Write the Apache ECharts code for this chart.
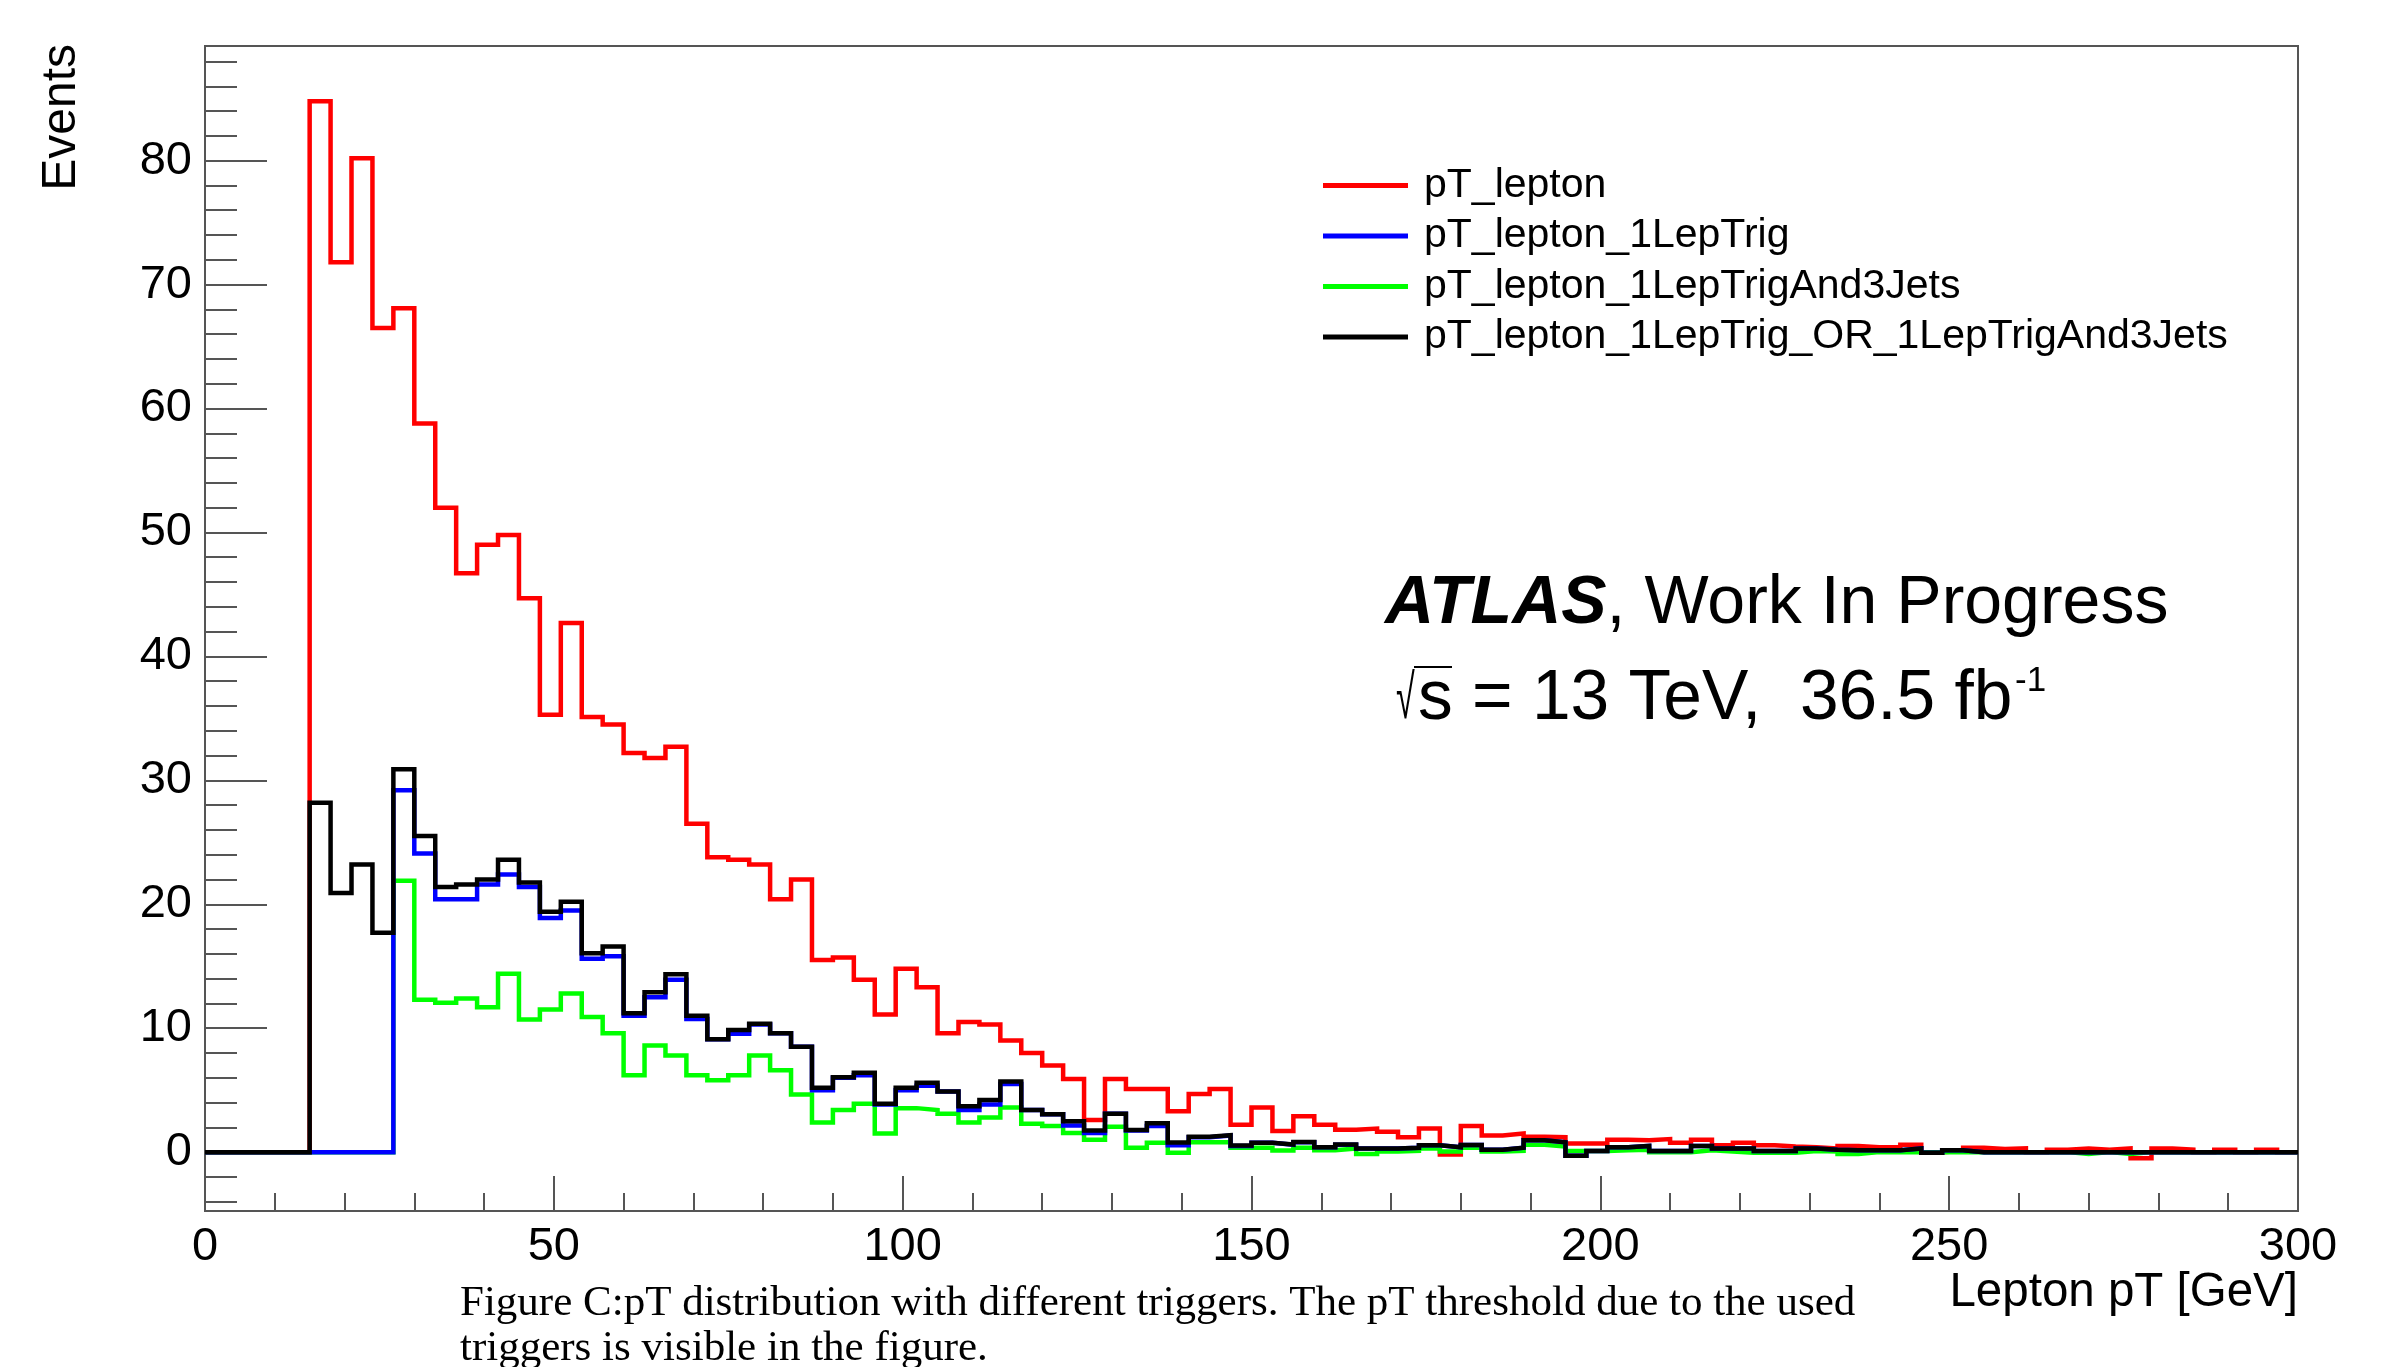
<!DOCTYPE html>
<html>
<head>
<meta charset="utf-8">
<script src="https://cdn.jsdelivr.net/npm/echarts@6/dist/echarts.min.js"></script>
<style>
html,body{margin:0;padding:0;background:#fff;}
#chart{width:2393px;height:1367px;}
</style>
</head>
<body>
<div id="chart"></div>
<script>
// ---- data: 100 bins of 3 GeV from 0 to 300 GeV ----
const BIN_WIDTH = 3;
const pT_lepton = [
  0, 0, 0, 0, 0,
  84.8, 71.8, 80.2, 66.5, 68.1,
  58.8, 52.0, 46.7, 49.0, 49.8,
  44.7, 35.3, 42.7, 35.1, 34.5,
  32.2, 31.8, 32.7, 26.5, 23.8,
  23.6, 23.2, 20.4, 22.0, 15.5,
  15.7, 13.9, 11.1, 14.8, 13.3,
  9.6, 10.5, 10.3, 9.0, 8.0,
  7.0, 5.9, 2.6, 5.9, 5.1,
  5.1, 3.3, 4.7, 5.1, 2.2,
  3.6, 1.7, 2.9, 2.2, 1.8,
  1.9, 1.65, 1.2, 1.9, -0.2,
  2.1, 1.35, 1.5, 1.25, 1.2,
  0.7, 0.7, 1.0, 0.95, 1.05,
  0.75, 1.0, 0.55, 0.75, 0.55,
  0.45, 0.4, 0.3, 0.5, 0.4,
  0.4, 0.6, 0, 0.1, 0.35,
  0.25, 0.3, 0, 0.2, 0.3,
  0.2, 0.3, -0.5, 0.3, 0.2,
  0, 0.2, 0, 0.2, 0
];
const pT_lepton_1LepTrig = [
  0, 0, 0, 0, 0,
  0, 0, 0, 0, 29.2,
  24.1, 20.4, 20.4, 21.6, 22.4,
  21.4, 18.9, 19.5, 15.6, 15.8,
  11.0, 12.5, 13.9, 10.75, 9.1,
  9.55, 10.3, 9.6, 8.5, 5.0,
  6.0, 6.2, 3.85, 5.0, 5.35,
  4.9, 3.4, 3.85, 5.5, 3.4,
  3.05, 2.15, 1.55, 3.1, 1.75,
  2.1, 0.55, 1.2, 1.35, 0.5,
  0.75, 0.6, 0.8, 0.4, 0.6,
  0.3, 0.3, 0.35, 0.55, 0.4,
  0.57, 0.2, 0.35, 0.95, 0.8,
  -0.3, 0.1, 0.4, 0.5, 0.1,
  0.1, 0.5, 0.3, 0.3, 0.1,
  0.1, 0.3, 0.2, 0.15, 0.15,
  0.15, 0.3, -0.05, 0.15, 0,
  0, 0, 0, 0, 0,
  0, 0, 0, 0, 0,
  0, 0, 0, 0, 0
];
const pT_lepton_1LepTrigAnd3Jets = [
  0, 0, 0, 0, 0,
  0, 0, 0, 0, 21.9,
  12.3, 12.05, 12.4, 11.7, 14.4,
  10.7, 11.5, 12.8, 10.9, 9.6,
  6.2, 8.6, 7.8, 6.2, 5.8,
  6.2, 7.8, 6.6, 4.65, 2.4,
  3.4, 3.9, 1.5, 3.55, 3.4,
  3.1, 2.4, 2.8, 3.6, 2.3,
  2.1, 1.55, 1.0, 2.05, 0.35,
  0.75, -0.05, 0.8, 0.8, 0.35,
  0.35, 0.13, 0.35, 0.15, 0.3,
  -0.15, 0.05, 0.1, 0.3, 0.05,
  0.35, 0.05, 0.1, 0.6, 0.45,
  0.1, 0.1, 0.15, 0.2, 0,
  0, 0.15, 0.05, -0.05, -0.05,
  -0.05, 0.1, 0.05, -0.15, 0,
  0, 0, 0, 0, 0,
  0, 0, 0, 0, -0.15,
  0, -0.15, 0, 0, 0,
  0, 0, 0, 0, 0
];
const pT_lepton_1LepTrig_OR_1LepTrigAnd3Jets = [
  0, 0, 0, 0, 0,
  28.2, 20.9, 23.2, 17.7, 30.9,
  25.5, 21.4, 21.6, 22.0, 23.6,
  21.75, 19.4, 20.2, 16.05, 16.6,
  11.2, 12.9, 14.35, 11.0, 9.1,
  9.85, 10.35, 9.6, 8.5, 5.2,
  6.05, 6.4, 3.9, 5.2, 5.6,
  4.9, 3.7, 4.2, 5.7, 3.4,
  3.05, 2.5, 1.75, 3.1, 1.78,
  2.34, 0.78, 1.24, 1.37, 0.54,
  0.75, 0.62, 0.81, 0.4, 0.62,
  0.3, 0.3, 0.35, 0.55, 0.4,
  0.57, 0.2, 0.35, 0.95, 0.8,
  -0.3, 0.1, 0.4, 0.5, 0.1,
  0.1, 0.5, 0.3, 0.3, 0.1,
  0.1, 0.3, 0.2, 0.15, 0.15,
  0.15, 0.3, -0.05, 0.15, 0,
  0, 0, 0, 0, 0,
  0, 0, 0, 0, 0,
  0, 0, 0, 0, 0
];
const seriesNames = ['pT_lepton', 'pT_lepton_1LepTrig', 'pT_lepton_1LepTrigAnd3Jets', 'pT_lepton_1LepTrig_OR_1LepTrigAnd3Jets'];
const yMajorTicks = [0, 10, 20, 30, 40, 50, 60, 70, 80];
const yMinorStep = 2;
const xTickLabels = [0, 50, 100, 150, 200, 250, 300];

// ---- helpers ----
function histPoints(vals) {
  const pts = vals.map((v, i) => [i * BIN_WIDTH, v]);
  pts.push([vals.length * BIN_WIDTH, vals[vals.length - 1]]);
  return pts;
}
const yMinorTicks = [];
for (let v = -4; v <= 88; v += yMinorStep) { if (v % 10 !== 0) yMinorTicks.push(v); }

const FONT = '"Liberation Sans", Arial, Helvetica, sans-serif';
const SERIF = '"Liberation Serif", "DejaVu Serif", serif';
const AX = '#555';
const YMIN = -4.75, YMAX = 89.25;

const chart = echarts.init(document.getElementById('chart'), null, {renderer: 'canvas'});

function mkSeries(name, data, color, z) {
  return {
    name: name, type: 'line', step: 'end', symbol: 'none', showSymbol: false,
    data: histPoints(data), z: z, clip: true,
    color: color,
    itemStyle: {color: color},
    lineStyle: {color: color, width: 4.5, join: 'miter', cap: 'butt'},
    emphasis: {disabled: true}
  };
}

const option = {
  animation: false,
  backgroundColor: '#ffffff',
  grid: {left: 205, right: 95, top: 46, bottom: 156, show: true, borderColor: AX, borderWidth: 2, backgroundColor: 'transparent'},
  xAxis: {
    type: 'value', min: 0, max: 300, interval: 50,
    axisLine: {show: true, onZero: false, lineStyle: {color: AX, width: 2}},
    axisTick: {show: true, inside: true, length: 35, lineStyle: {color: AX, width: 2}},
    minorTick: {show: true, splitNumber: 5, length: 18, lineStyle: {color: AX, width: 2}},
    splitLine: {show: false},
    axisLabel: {fontSize: 47, color: '#000', fontFamily: FONT, margin: 13,
      formatter: function (v) { return xTickLabels.indexOf(v) >= 0 ? String(v) : ''; }}
  },
  yAxis: [
    {
      type: 'value', min: YMIN, max: YMAX, position: 'left',
      axisLine: {show: true, onZero: false, lineStyle: {color: AX, width: 2}},
      axisTick: {show: true, inside: true, length: 62, customValues: yMajorTicks, lineStyle: {color: AX, width: 2}},
      axisLabel: {show: true, customValues: yMajorTicks, fontSize: 47, color: '#000', fontFamily: FONT, margin: 13,
        padding: [9, 0, 0, 0]},
      splitLine: {show: false}
    },
    {
      type: 'value', min: YMIN, max: YMAX, position: 'left', offset: 0,
      axisLine: {show: false},
      axisTick: {show: true, inside: true, length: 32, customValues: yMinorTicks, lineStyle: {color: AX, width: 2}},
      axisLabel: {show: false},
      splitLine: {show: false}
    }
  ],
  legend: {
    data: seriesNames,
    orient: 'vertical', left: 1318, top: 160, itemGap: 9.5,
    icon: 'rect', itemWidth: 85, itemHeight: 5,
    itemStyle: {borderWidth: 0},
    textStyle: {fontSize: 41, lineHeight: 41, fontFamily: FONT, color: '#000', padding: [0, 0, 0, 11]},
    selectedMode: false
  },
  series: [
    mkSeries(seriesNames[0], pT_lepton, '#ff0000', 2),
    mkSeries(seriesNames[2], pT_lepton_1LepTrigAnd3Jets, '#00ff00', 3),
    mkSeries(seriesNames[1], pT_lepton_1LepTrig, '#0000ff', 4),
    mkSeries(seriesNames[3], pT_lepton_1LepTrig_OR_1LepTrigAnd3Jets, '#000000', 5)
  ],
  graphic: [
    {type: 'text', x: 62, y: 44, rotation: Math.PI / 2, z: 100,
      style: {text: 'Events', fontSize: 48, fontFamily: FONT, fill: '#000', align: 'right', verticalAlign: 'middle'}},
    {type: 'text', x: 2298, y: 1293, z: 100,
      style: {text: 'Lepton pT [GeV]', fontSize: 47.5, fontFamily: FONT, fill: '#000', align: 'right', verticalAlign: 'middle'}},
    {type: 'text', x: 1385, y: 604, z: 100,
      style: {text: '{a|ATLAS}{b|, Work In Progress}', align: 'left', verticalAlign: 'middle', fill: '#000',
        rich: {
          a: {fontSize: 68, fontFamily: FONT, fontWeight: 'bold', fontStyle: 'italic', fill: '#000'},
          b: {fontSize: 68, fontFamily: FONT, fill: '#000'}
        }}},
    {type: 'text', x: 1396, y: 701, scaleX: 0.55, z: 100,
      style: {text: '\u221A', fontSize: 62, fontFamily: FONT, fill: '#000', align: 'left', verticalAlign: 'middle'}},
    {type: 'line', z: 100, shape: {x1: 1414, y1: 667, x2: 1452, y2: 667}, style: {stroke: '#000', lineWidth: 2}},
    {type: 'text', x: 1418, y: 700, z: 100,
      style: {text: 's = 13 TeV,  36.5 fb', fontSize: 69.5, fontFamily: FONT, fill: '#000', align: 'left', verticalAlign: 'middle'}},
    {type: 'text', x: 2015, y: 681, z: 100,
      style: {text: '-1', fontSize: 35, fontFamily: FONT, fill: '#000', align: 'left', verticalAlign: 'middle'}},
    {type: 'text', x: 460, y: 1304, z: 100,
      style: {text: 'Figure C:pT distribution with different triggers. The pT threshold due to the used', fontSize: 43,
        fontFamily: SERIF, fill: '#000', align: 'left', verticalAlign: 'middle'}},
    {type: 'text', x: 460, y: 1349, z: 100,
      style: {text: 'triggers is visible in the figure.', fontSize: 43,
        fontFamily: SERIF, fill: '#000', align: 'left', verticalAlign: 'middle'}}
  ]
};
chart.setOption(option);
</script>
</body>
</html>
